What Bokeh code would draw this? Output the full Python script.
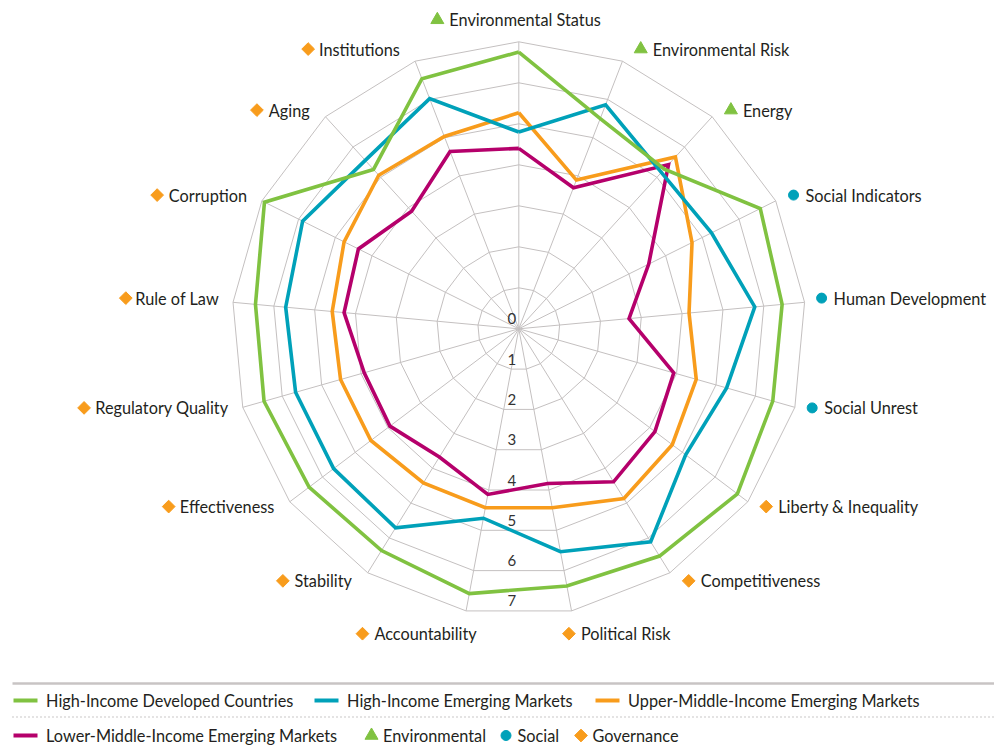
import numpy as np
from bokeh.plotting import figure
from bokeh.models import Range1d
from bokeh.core.properties import value
from bokeh.embed import file_html
from bokeh.resources import INLINE

# ---------------- data ----------------
categories = ["Environmental Status", "Environmental Risk", "Energy", "Social Indicators",
              "Human Development", "Social Unrest", "Liberty & Inequality", "Competitiveness",
              "Political Risk", "Accountability", "Stability", "Effectiveness",
              "Regulatory Quality", "Rule of Law", "Corruption", "Aging", "Institutions"]
category_groups = ["Environmental", "Environmental", "Environmental", "Social", "Social", "Social",
                   "Governance", "Governance", "Governance", "Governance", "Governance", "Governance",
                   "Governance", "Governance", "Governance", "Governance", "Governance"]

high_income_developed = [6.75, 5.5, 5.27, 6.58, 6.45, 6.44, 6.68, 6.52, 6.38, 6.57, 6.36, 6.41,
                         6.46, 6.45, 6.93, 5.26, 6.54]
high_income_emerging = [4.8, 5.86, 5.16, 5.25, 5.78, 5.27, 5.1, 6.11, 5.53, 4.7, 5.71, 5.66,
                        5.66, 5.71, 5.89, 5.56, 6.02]
upper_middle_emerging = [5.27, 3.89, 5.67, 4.72, 4.17, 4.5, 4.69, 4.87, 4.44, 4.44, 4.42, 4.52,
                         4.52, 4.57, 4.76, 5.07, 5.03]
lower_middle_emerging = [4.4, 3.69, 5.42, 3.54, 2.7, 3.93, 4.16, 4.39, 3.84, 4.11, 3.68, 3.94,
                         3.92, 4.28, 4.37, 3.88, 4.64]

series_names = ["High-Income Developed Countries", "High-Income Emerging Markets",
                "Upper-Middle-Income Emerging Markets", "Lower-Middle-Income Emerging Markets"]
group_names = ["Environmental", "Social", "Governance"]
tick_values = [0, 1, 2, 3, 4, 5, 6, 7]
axis_max = 7

# ---------------- style ----------------
GREEN, BLUE, ORANGE, MAGENTA = "#80C241", "#00A1B9", "#F89C1C", "#B5006B"
series_colors = [GREEN, BLUE, ORANGE, MAGENTA]
group_style = {"Environmental": ("triangle", GREEN, 13, 0.0),
               "Social": ("circle", BLUE, 10, 0.0),
               "Governance": ("square", ORANGE, 9, np.pi / 4)}
GRID = "#C4C0C0"
TXT = "#231F20"
FONT = value("Lato")
FSN = 16.3
FS = f"{FSN}px"

W, H = 994, 747
S = 41.0                       # pixels per value unit
CXI, CYI = 518.3, 328.3        # centre in page pixels


def P(xi, yi):
    """page pixel -> data coordinates"""
    return (xi - CXI) / S, (CYI - yi) / S


p = figure(width=W, height=H, output_backend="svg", toolbar_location=None,
           x_range=Range1d((0 - CXI) / S, (W - CXI) / S),
           y_range=Range1d((CYI - H) / S, CYI / S),
           x_axis_location=None, y_axis_location=None, min_border=0)
p.grid.visible = False
p.outline_line_color = None
p.background_fill_color = "white"

N = len(categories)
theta = np.arange(N) * 2 * np.pi / N
sn, cs = np.sin(theta), np.cos(theta)

# grid rings and spokes
for k in tick_values[1:]:
    p.line(list(k * sn) + [k * sn[0]], list(k * cs) + [k * cs[0]], line_color=GRID, line_width=1)
p.segment(x0=np.zeros(N), y0=np.zeros(N), x1=axis_max * sn, y1=axis_max * cs,
          line_color=GRID, line_width=1)

# tick labels (down the vertical)
tk = np.array(tick_values, dtype=float)
p.text(x=np.full(len(tk), -7 / S), y=-tk * np.cos(np.pi / N) + 10 / S,
       text=[str(t) for t in tick_values], text_font=FONT, text_font_size="15px",
       text_color="#333333", text_align="center", text_baseline="middle")

# series (last first so the first series is on top)
all_series = [high_income_developed, high_income_emerging, upper_middle_emerging, lower_middle_emerging]
for vals, col in reversed(list(zip(all_series, series_colors))):
    v = np.array(vals)
    xs = list(v * sn) + [v[0] * sn[0]]
    ys = list(v * cs) + [v[0] * cs[0]]
    p.line(xs, ys, line_color=col, line_width=3.6, line_join="miter")

# rough text width estimate (Lato, em units)
CW = {' ': .19, 'a': .50, 'b': .56, 'c': .46, 'd': .56, 'e': .52, 'f': .33, 'g': .51, 'h': .56,
      'i': .24, 'j': .24, 'k': .51, 'l': .24, 'm': .84, 'n': .56, 'o': .56, 'p': .56, 'q': .56,
      'r': .37, 's': .42, 't': .35, 'u': .56, 'v': .51, 'w': .78, 'x': .49, 'y': .51, 'z': .45,
      'A': .68, 'B': .63, 'C': .65, 'D': .74, 'E': .57, 'F': .55, 'G': .72, 'H': .75, 'I': .28,
      'J': .40, 'K': .66, 'L': .49, 'M': .90, 'N': .75, 'O': .79, 'P': .59, 'Q': .79, 'R': .62,
      'S': .51, 'T': .59, 'U': .72, 'V': .68, 'W': 1.0, 'X': .65, 'Y': .62, 'Z': .62, '&': .70,
      '-': .35}


def tw(s, size=FSN):
    return sum(CW.get(ch, .55) for ch in s) * size


# category labels
RL = 300.0  # px
lab_x, lab_y, lab_t, lab_a = [], [], [], []
mk = {g: ([], []) for g in group_names}
for i, name in enumerate(categories):
    px_ = CXI + RL * sn[i]
    py_ = CYI - RL * cs[i]
    w = tw(name)
    g = category_groups[i]
    if abs(sn[i]) < 1e-6:
        ypix = py_ - 9
        left = px_ - (w + 12) / 2 - 6
        mxi, txi, al = left + 6, left + 18, "left"
    elif cs[i] < -0.95:
        ypix = py_ + 10
        if sn[i] > 0:
            mxi = px_ - 5
            txi, al = mxi + 12, "left"
        else:
            txi, al = px_ + 13, "right"
            mxi = txi - w - 12
    else:
        ypix = py_ - (3 if cs[i] < 0.2 else 0) + (3 if 0.6 < cs[i] < 0.8 else 0)
        off = 4 + 11 * cs[i] ** 2
        if sn[i] > 0:
            mxi = px_ + off
            txi, al = mxi + 12, "left"
        else:
            txi, al = px_ - off + 3, "right"
            mxi = txi - w - 12
    X, Y = P(txi, ypix)
    lab_x.append(X); lab_y.append(Y); lab_t.append(name); lab_a.append(al)
    mx, my = P(mxi, ypix)
    mk[g][0].append(mx); mk[g][1].append(my)

for al in ("left", "right"):
    idx = [j for j, a in enumerate(lab_a) if a == al]
    p.text(x=[lab_x[j] for j in idx], y=[lab_y[j] for j in idx], text=[lab_t[j] for j in idx],
           text_font=FONT, text_font_size=FS, text_color=TXT, text_align=al, text_baseline="middle")
for g in group_names:
    m, c, sz, ang = group_style[g]
    p.scatter(mk[g][0], mk[g][1], marker=m, size=sz, angle=ang, fill_color=c, line_color=c)

# ---------------- legend ----------------
x0, y0 = P(12, 683)
x1, _ = P(W, 683)
p.line([x0, x1], [y0, y0], line_color="#C8C4C4", line_width=2.5)
_, yd = P(0, 716.5)
p.line([x0, x1], [yd, yd], line_color="#B8B4B4", line_width=1.5, line_dash="1 3")

series_leg_pos = [(13, 700), (314, 700), (595, 700), (13, 735)]
for name, col, (xi, yi) in zip(series_names, series_colors, series_leg_pos):
    a, b = P(xi, yi)
    c_, _ = P(xi + 24, yi)
    p.line([a, c_], [b, b], line_color=col, line_width=4)
    tx, ty = P(xi + 32.6, yi)
    p.text(x=[tx], y=[ty], text=[name], text_font=FONT, text_font_size=FS, text_color=TXT,
           text_align="left", text_baseline="middle")

group_leg_pos = [(371, 735), (505.5, 735), (580.5, 735)]
for g, (xi, yi) in zip(group_names, group_leg_pos):
    m, c, sz, ang = group_style[g]
    a, b = P(xi, yi)
    p.scatter([a], [b], marker=m, size=sz, angle=ang, fill_color=c, line_color=c)
    tx, ty = P(xi + 11.5, yi)
    p.text(x=[tx], y=[ty], text=[g], text_font=FONT, text_font_size=FS, text_color=TXT,
           text_align="left", text_baseline="middle")

open("out.html", "w").write(file_html(p, INLINE))
